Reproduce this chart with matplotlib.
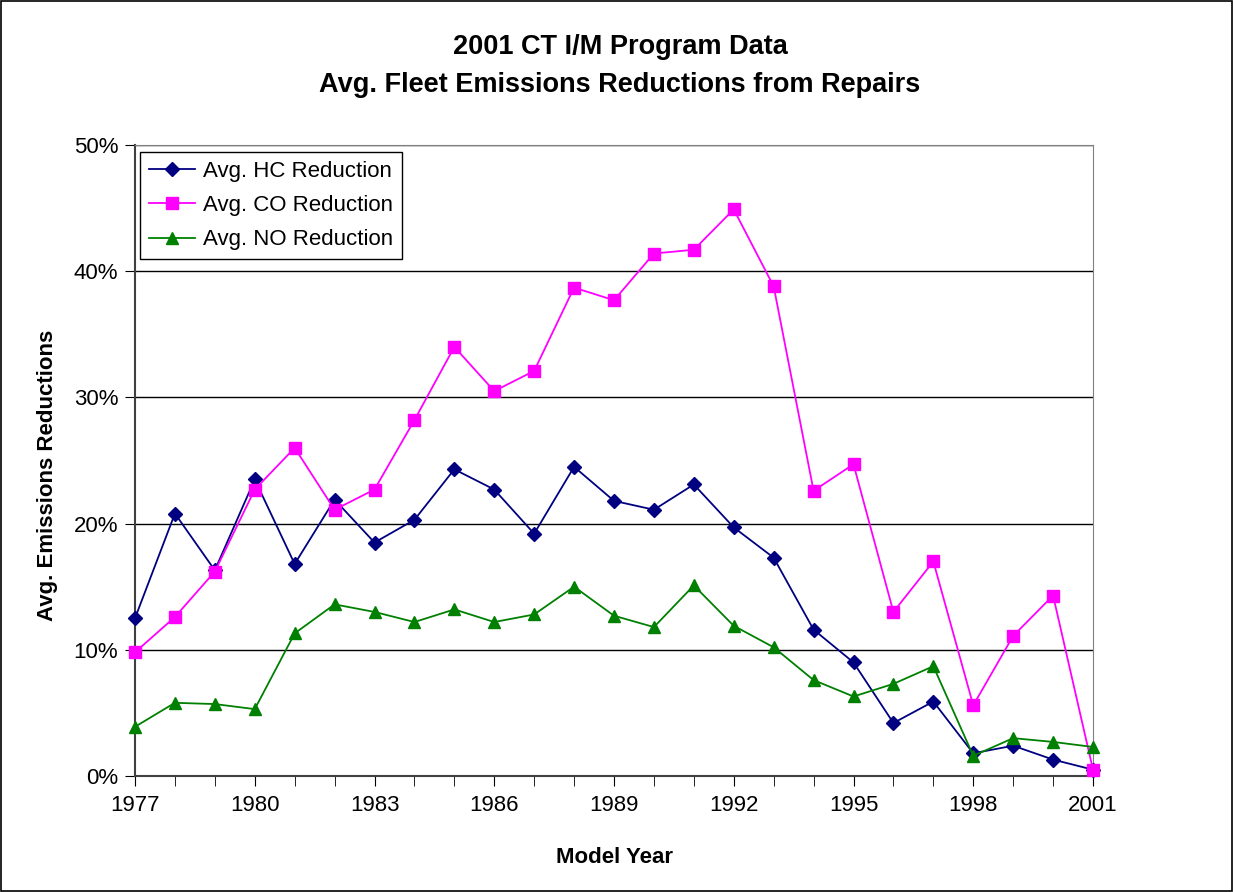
import numpy as np
import matplotlib
matplotlib.use("Agg")
import matplotlib.pyplot as plt
from matplotlib.ticker import MultipleLocator, FuncFormatter

plt.rcParams['font.family'] = ['Liberation Sans', 'DejaVu Sans']

years = list(range(1977, 2002))
hc = [12.5, 20.8, 16.3, 23.5, 16.8, 21.9, 18.5, 20.3, 24.3, 22.7, 19.2, 24.5, 21.8,
      21.1, 23.1, 19.7, 17.3, 11.6, 9.0, 4.2, 5.9, 1.8, 2.4, 1.3, 0.5]
co = [9.8, 12.6, 16.2, 22.7, 26.0, 21.1, 22.7, 28.2, 34.0, 30.5, 32.1, 38.7, 37.7,
      41.4, 41.7, 44.9, 38.8, 22.6, 24.7, 13.0, 17.0, 5.6, 11.1, 14.3, 0.5]
no = [3.9, 5.8, 5.7, 5.3, 11.3, 13.6, 13.0, 12.2, 13.2, 12.2, 12.8, 15.0, 12.7,
      11.8, 15.1, 11.9, 10.2, 7.6, 6.3, 7.3, 8.7, 1.6, 3.0, 2.7, 2.3]

fig = plt.figure(figsize=(12.33, 8.92), dpi=100)
fig.patches.append(plt.Rectangle((0.001, 0.001), 0.998, 0.998, transform=fig.transFigure,
                                 fill=False, edgecolor='black', linewidth=1.2))
ax = fig.add_axes([135/1233, 1 - 776/892, (1093 - 135)/1233, (776 - 145)/892])

ax.plot(years, hc, color='#000080', marker='D', markersize=7, linewidth=1.3,
        label='Avg. HC Reduction', clip_on=False, zorder=3)
ax.plot(years, co, color='#ff00ff', marker='s', markersize=8, linewidth=1.3,
        label='Avg. CO Reduction', clip_on=False, zorder=3)
ax.plot(years, no, color='#008000', marker='^', markersize=9, linewidth=1.3,
        label='Avg. NO Reduction', clip_on=False, zorder=3)

ax.set_xlim(1977, 2001)
ax.set_ylim(0, 50)
ax.xaxis.set_major_locator(MultipleLocator(3))
ax.xaxis.set_minor_locator(MultipleLocator(1))
ax.yaxis.set_major_locator(MultipleLocator(10))
ax.yaxis.set_major_formatter(FuncFormatter(lambda v, p: f"{v:.0f}%"))
ax.grid(axis='y', color='black', linewidth=1)
ax.set_axisbelow(True)

ax.tick_params(axis='both', which='both', direction='out', labelsize=16, colors='black')
ax.tick_params(axis='x', which='both', length=7, pad=7)
ax.tick_params(axis='y', length=7, pad=5)
for s in ['top', 'right']:
    ax.spines[s].set_color('#808080')
for s in ['left', 'bottom']:
    ax.spines[s].set_color('#404040')
    ax.spines[s].set_linewidth(1.5)

ax.set_xlabel('Model Year', fontsize=16, fontweight='bold', labelpad=22)
ax.set_ylabel('Avg. Emissions Reductions', fontsize=16, fontweight='bold')
ax.yaxis.set_label_coords(-0.08, 0.477)
fig.text(620/1233, 1 - 66/892, '2001 CT I/M Program Data\nAvg. Fleet Emissions Reductions from Repairs',
         ha='center', va='center', fontsize=19.5, fontweight='bold', linespacing=1.6)

leg = ax.legend(loc='upper left', bbox_to_anchor=(0.005, 0.989), borderaxespad=0,
                fontsize=16, frameon=True, fancybox=False, edgecolor='black', framealpha=1,
                handlelength=2.1, borderpad=0.4, labelspacing=0.6, handletextpad=0.35)
leg.get_frame().set_linewidth(1)

fig.savefig('out.png', dpi=100)
